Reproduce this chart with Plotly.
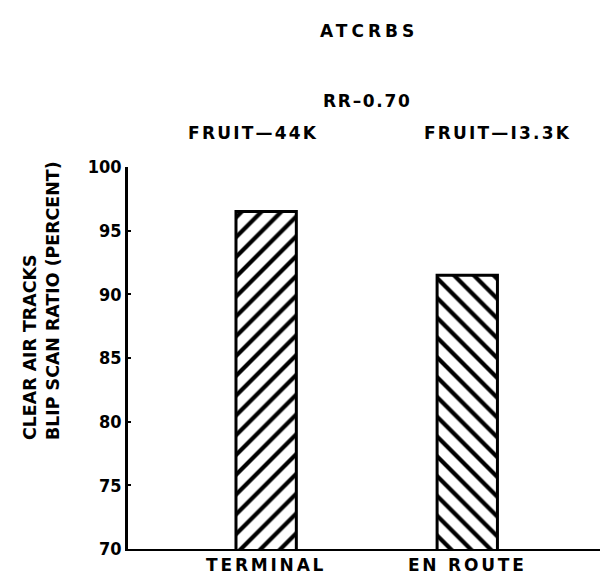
import plotly.graph_objects as go

categories = ["TERMINAL", "EN ROUTE"]
values = [96.5, 91.5]
fruit_labels = ["FRUIT\u201444K", "FRUIT\u2014I3.3K"]
hatch = ["/", "\\"]
y_ticks = [70, 75, 80, 85, 90, 95, 100]

FONT = "DejaVu Sans"
fig = go.Figure()
fig.add_trace(go.Bar(
    x=categories, y=values, width=0.30,
    marker=dict(color="white", line=dict(color="black", width=3),
                pattern=dict(shape=hatch, fgcolor="black", bgcolor="white",
                             fgopacity=1, size=14, solidity=0.3)),
))
fig.update_layout(
    width=603, height=582,
    margin=dict(l=128, r=3, t=167, b=33),
    paper_bgcolor="white", plot_bgcolor="white",
    showlegend=False,
    font=dict(family=FONT, color="black", size=17),
)
fig.update_xaxes(range=[-0.687, 1.66], showline=True, linecolor="black", linewidth=2,
                 showgrid=False, ticks="", tickfont=dict(size=17, family=FONT, weight="bold"))
fig.update_yaxes(range=[70, 100], tickvals=y_ticks, showline=True, linecolor="black",
                 linewidth=2.5, showgrid=False, ticks="inside", ticklen=3, tickwidth=2,
                 tickcolor="black", zeroline=False,
                 tickfont=dict(size=18, family="DejaVu Sans Condensed", weight="bold"))
common = dict(showarrow=False, xanchor="center", yanchor="middle")
fig.add_annotation(text="ATCRBS", xref="paper", yref="paper", x=(369-128)/472,
                   y=1 + (167-31)/382, font=dict(size=17, weight="bold"), **common)
fig.add_annotation(text="RR\u20130.70", xref="paper", yref="paper", x=(367-128)/472,
                   y=1 + (167-101)/382, font=dict(size=17, weight="bold"), **common)
for c, lab, dx in zip(categories, fruit_labels, [-13, 31]):
    fig.add_annotation(text=lab, x=c, xref="x", yref="paper", y=1 + (167-133)/382,
                       xshift=dx, font=dict(size=17, weight="bold"), **common)
fig.add_annotation(text="CLEAR AIR TRACKS<br>BLIP SCAN RATIO (PERCENT)", textangle=-90,
                   xref="paper", yref="paper", x=(41-128)/472, y=(549-301)/382,
                   align="left", font=dict(size=17.4, weight="bold"), **common)

post = """
var gd = document.getElementById('{plot_id}');
var spacing = {'ATCRBS': '4px', 'RR\\u20130.70': '1.7px',
               'FRUIT\\u201444K': '2.2px', 'FRUIT\\u2014I3.3K': '2.2px',
               'TERMINAL': '2.8px', 'EN ROUTE': '2.8px'};
gd.querySelectorAll('text').forEach(function(t) {
  var s = t.textContent;
  if (spacing[s]) { t.style.letterSpacing = spacing[s]; }
});
"""
fig.write_html("out.html", config={"displayModeBar": False},
               post_script=["document.body.style.margin='0';", post])
